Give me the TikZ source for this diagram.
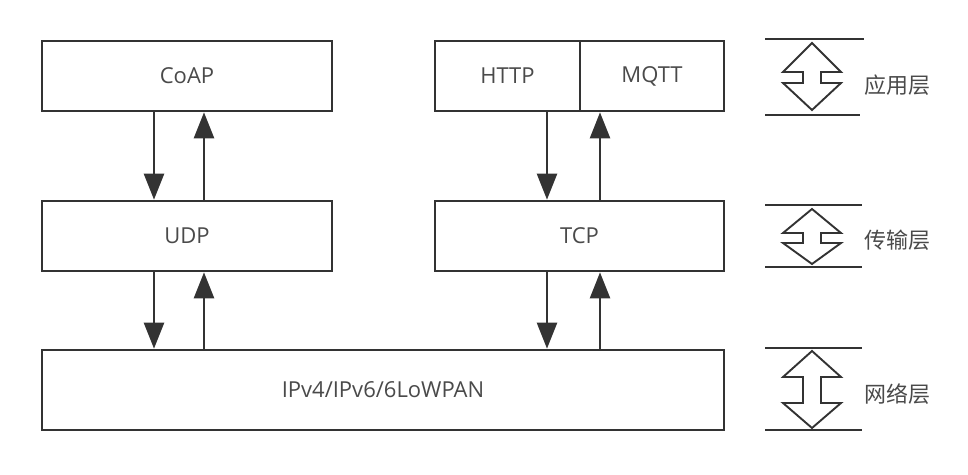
\documentclass[tikz,border=0pt]{standalone}
\usepackage{fontspec}
\setmainfont{Open Sans}
\newfontfamily\cjk{Noto Sans CJK SC}
\usetikzlibrary{arrows.meta}
\definecolor{linec}{HTML}{333333}
\definecolor{textc}{HTML}{4A4A4A}
\tikzset{
  box/.style={draw=linec, line width=2.7pt, fill=white, inner sep=0pt,
    text=textc, font=\fontsize{22}{26}\selectfont},
  arr/.style={draw=linec, line width=2.5pt, -{Triangle[width=20pt,length=26pt]}},
  layerline/.style={draw=linec, line width=2.5pt},
  dbl/.style={draw=linec, line width=1.9pt, fill=white, line join=miter},
  lbl/.style={text=textc, font=\cjk\fontsize{22}{26}\selectfont, inner sep=0pt}
}
\begin{document}
\begin{tikzpicture}[x=1pt,y=-1pt]
\useasboundingbox (0,0) rectangle (968,474);
% boxes
\node[box, minimum width=290pt, minimum height=70pt] (coap) at (187,76) {CoAP};
\node[box, minimum width=145pt, minimum height=70pt] (http) at (507.5,76) {HTTP};
\node[box, minimum width=144pt, minimum height=70pt] (mqtt) at (652,76) {MQTT};
\node[box, minimum width=290pt, minimum height=70pt] (udp) at (187,236) {UDP};
\node[box, minimum width=289pt, minimum height=70pt] (tcp) at (579.5,236) {TCP};
\node[box, minimum width=682pt, minimum height=80pt] (ip) at (383,390) {IPv4/IPv6/6LoWPAN};
% arrow columns
\coordinate (c1) at (154,0);
\coordinate (c2) at (204,0);
\coordinate (c3) at (547,0);
\coordinate (c4) at (600,0);
\draw[arr] (coap.south -| c1) -- (udp.north -| c1);
\draw[arr] (udp.north -| c2) -- (coap.south -| c2);
\draw[arr] (http.south -| c3) -- (tcp.north -| c3);
\draw[arr] (tcp.north -| c4) -- (mqtt.south -| c4);
\draw[arr] (udp.south -| c1) -- (ip.north -| c1);
\draw[arr] (ip.north -| c2) -- (udp.south -| c2);
\draw[arr] (tcp.south -| c3) -- (ip.north -| c3);
\draw[arr] (ip.north -| c4) -- (tcp.south -| c4);
% layer markers
\draw[layerline] (765,39) -- (864,39);
\draw[layerline] (765,115) -- (860,115);
\draw[dbl] (812,43) -- (783,72) -- (803,72) -- (803,83) -- (783,83) -- (812,110)
  -- (841,83) -- (821,83) -- (821,72) -- (841,72) -- cycle;
\node[lbl] (l1) at (897,85) {应用层};

\draw[layerline] (765,205) -- (862,205);
\draw[layerline] (765,267) -- (862,267);
\draw[dbl] (812,209) -- (783,233) -- (803,233) -- (803,243) -- (783,243) -- (812,264)
  -- (841,243) -- (821,243) -- (821,233) -- (841,233) -- cycle;
\node[lbl] (l2) at (897,240) {传输层};

\draw[layerline] (765,348) -- (862,348);
\draw[layerline] (765,430) -- (862,430);
\draw[dbl] (812,351) -- (783,377) -- (803,377) -- (803,403) -- (783,403) -- (812,428)
  -- (841,403) -- (821,403) -- (821,377) -- (841,377) -- cycle;
\node[lbl] (l3) at (897,394) {网络层};
\end{tikzpicture}
\end{document}
